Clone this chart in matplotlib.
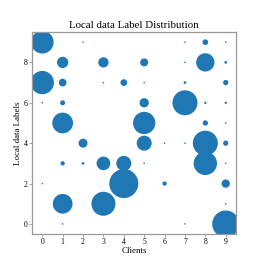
import matplotlib
matplotlib.use("Agg")
import matplotlib.pyplot as plt

clients = [0, 0, 0, 0,
           1, 1, 1, 1, 1, 1, 1,
           2, 2, 2,
           3, 3, 3, 3,
           4, 4, 4,
           5, 5, 5, 5, 5, 5,
           6, 6,
           7, 7, 7, 7, 7, 7,
           8, 8, 8, 8, 8, 8,
           9, 9, 9, 9, 9, 9, 9, 9, 9, 9]
labels = [9, 7, 6, 2,
          8, 7, 6, 5, 3, 1, 0,
          9, 4, 3,
          8, 7, 3, 1,
          7, 3, 2,
          8, 7, 6, 5, 4, 3,
          4, 2,
          9, 8, 7, 6, 4, 0,
          9, 8, 6, 5, 4, 3,
          9, 8, 7, 6, 5, 4, 3, 2, 1, 0]
counts = [1030, 1086, 5, 5,
          255, 119, 50, 857, 37, 776, 5,
          5, 162, 15,
          212, 5, 375, 1152,
          90, 450, 1682,
          128, 5, 173, 995, 450, 5,
          5, 37,
          5, 5, 15, 1250, 5, 5,
          65, 670, 11, 56, 1250, 1086,
          5, 15, 56, 11, 5, 56, 5, 138, 5, 1458]

ticks = list(range(10))

plt.rcParams['font.family'] = ['Liberation Serif', 'DejaVu Serif']

fig = plt.figure(figsize=(2.63, 2.63), dpi=100)
ax = fig.add_axes([0.122, 0.110, 0.775, 0.768])
sizes = [c * 0.2592 for c in counts]
ax.scatter(clients, labels, s=sizes, color='#1f77b4', linewidths=0)
ax.set_xlim(-0.5, 9.5)
ax.set_ylim(-0.5, 9.5)
ax.set_xticks(ticks)
ax.set_yticks([0, 2, 4, 6, 8])
ax.tick_params(labelsize=5.5, length=2, width=0.6, color='#999999', pad=1)
for sp in ax.spines.values():
    sp.set_color('#999999')
    sp.set_linewidth(0.9)
ax.set_title('Local data Label Distribution', fontsize=7.8, pad=3)
ax.set_xlabel('Clients', fontsize=6.5, labelpad=0.5)
ax.set_ylabel('Local data Labels', fontsize=6.4, labelpad=1.5)
fig.savefig('out.png', dpi=100)
